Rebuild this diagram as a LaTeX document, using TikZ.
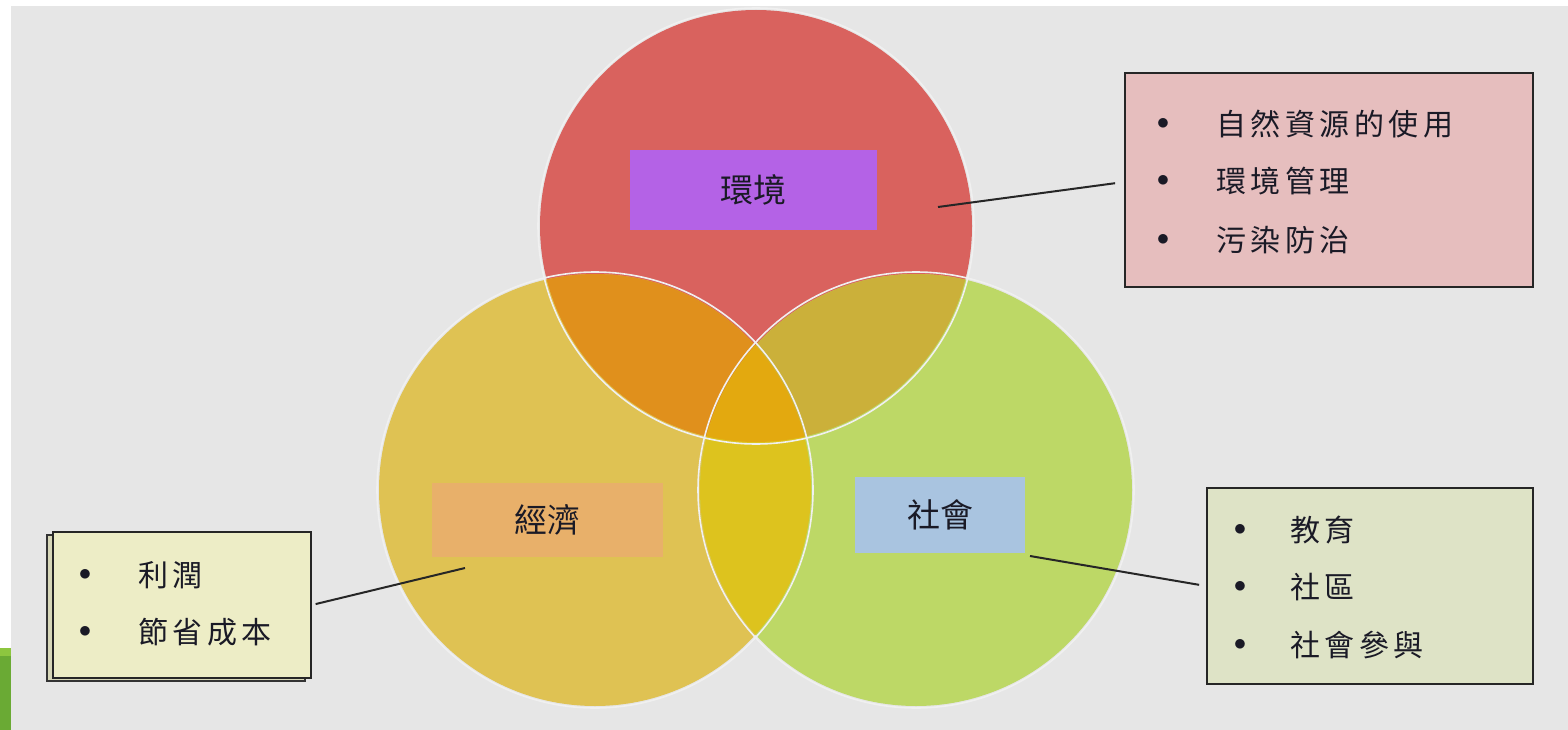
\documentclass[tikz,border=0pt]{standalone}
\usepackage{fontspec}
\newfontfamily\cjk{Noto Sans CJK TC}
\definecolor{bgc}{HTML}{E6E6E6}
\definecolor{cred}{HTML}{D9625E}
\definecolor{cyel}{HTML}{DFC253}
\definecolor{cgrn}{HTML}{BDD866}
\definecolor{cry}{HTML}{E0901C}
\definecolor{crg}{HTML}{CBB03A}
\definecolor{cyg}{HTML}{DDC31E}
\definecolor{cmid}{HTML}{E3A90F}
\definecolor{lpur}{HTML}{B462E6}
\definecolor{lora}{HTML}{E8B06A}
\definecolor{lblu}{HTML}{A9C4E0}
\definecolor{bpink}{HTML}{E6BEBE}
\definecolor{bgreen}{HTML}{DEE3C6}
\definecolor{byel}{HTML}{EDEDC6}
\definecolor{gbar}{HTML}{6AAA34}
\definecolor{gbarl}{HTML}{8DC63F}
\definecolor{txt}{HTML}{1A1A26}
\begin{document}
\begin{tikzpicture}[x=1pt,y=-1pt,
  ring/.style={draw=white!88!gray,line width=1.6pt},
  tag/.style={rectangle,inner sep=0pt,text=txt,font=\cjk\fontsize{33}{38}\selectfont},
  infobox/.style={rectangle,draw=black!85,line width=2pt,inner sep=0pt},
  itemtxt/.style={anchor=west,inner sep=0pt,text=txt,font=\cjk\fontsize{30}{36}\selectfont\addfontfeature{LetterSpace=15}},
  bul/.style={inner sep=0pt,text=txt,font=\fontsize{26}{30}\selectfont},
  link/.style={draw=black!85,line width=2pt}]
\useasboundingbox (0,0) rectangle (1568,730);
\fill[white] (0,0) rectangle (1568,730);
\fill[bgc] (11,6) rectangle (1568,730);
\fill[gbar] (0,648) rectangle (11,730);
\fill[gbarl] (0,648) rectangle (11,656);
% circles
\coordinate (R) at (756,226);
\coordinate (Y) at (595,490);
\coordinate (G) at (916,490);
\fill[cred] (R) circle[radius=216];
\fill[cyel] (Y) circle[radius=216];
\fill[cgrn] (G) circle[radius=216];
\begin{scope}\clip (R) circle[radius=216]; \fill[cry] (Y) circle[radius=216];\end{scope}
\begin{scope}\clip (R) circle[radius=216]; \fill[crg] (G) circle[radius=216];\end{scope}
\begin{scope}\clip (Y) circle[radius=216]; \fill[cyg] (G) circle[radius=216];\end{scope}
\begin{scope}\clip (R) circle[radius=216]; \clip (Y) circle[radius=216]; \fill[cmid] (G) circle[radius=216];\end{scope}
\draw[ring] (R) circle[radius=218];
\draw[ring] (Y) circle[radius=218];
\draw[ring] (G) circle[radius=218];
% tags
\node[tag,fill=lpur,minimum width=247,minimum height=80] (env) at (753.5,190) {環境};
\node[tag,fill=lora,minimum width=231,minimum height=74] (eco) at (547.5,520) {經濟};
\node[tag,fill=lblu,minimum width=170,minimum height=76] (soc) at (940,515) {社會};
% info boxes
\node[infobox,fill=bpink,minimum width=408,minimum height=214] (envbox) at (1329,180) {};
\node[infobox,fill=bgreen,minimum width=326,minimum height=196] (socbox) at (1370,586) {};
\draw[black!80,line width=1.5pt,fill=byel!80!gray] (47,535) rectangle (305,681);
\node[infobox,fill=byel,line width=1.5pt,minimum width=258,minimum height=146] (ecobox) at (182,605) {};
% items
\node[bul] (b1) at (1163,124) {$\bullet$};
\node[bul] (b2) at (1163,181) {$\bullet$};
\node[bul] (b3) at (1163,240) {$\bullet$};
\node[itemtxt] (t1) at (1216,124) {自然資源的使用};
\node[itemtxt] (t2) at (1216,181) {環境管理};
\node[itemtxt] (t3) at (1216,240) {污染防治};
\node[bul] (b4) at (1240,530) {$\bullet$};
\node[bul] (b5) at (1240,587) {$\bullet$};
\node[bul] (b6) at (1240,645) {$\bullet$};
\node[itemtxt] (t4) at (1290,530) {教育};
\node[itemtxt] (t5) at (1290,587) {社區};
\node[itemtxt] (t6) at (1290,645) {社會參與};
\node[bul] (b7) at (85,575) {$\bullet$};
\node[bul] (b8) at (85,632) {$\bullet$};
\node[itemtxt] (t7) at (138,575) {利潤};
\node[itemtxt] (t8) at (138,632) {節省成本};
% connectors
\coordinate (pe) at (938,207);
\coordinate (py) at (465,568);
\coordinate (pg) at (1030,556);
\draw[link,shorten >=9pt] (pe) -- (envbox.west |- 0,182);
\draw[link,shorten >=4pt] (py) -- (ecobox.east);
\draw[link,shorten >=7pt] (pg) -- (socbox.west);
\end{tikzpicture}
\end{document}
